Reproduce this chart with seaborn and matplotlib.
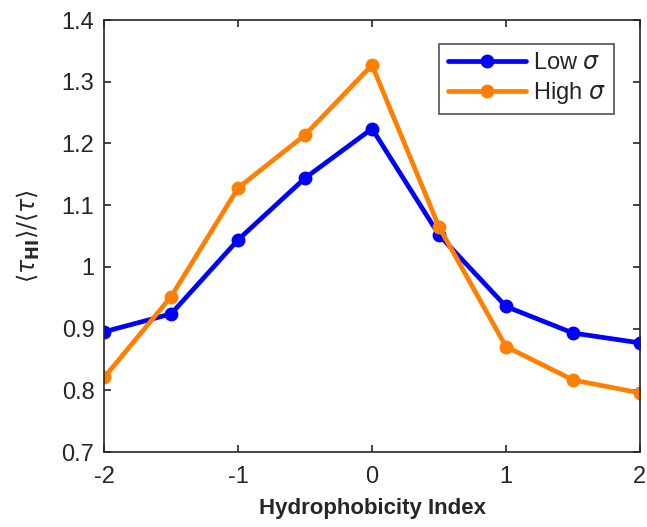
import matplotlib
matplotlib.use("Agg")
import matplotlib.pyplot as plt
import seaborn as sns
import pandas as pd

x_vals = [-2, -1.5, -1, -0.5, 0, 0.5, 1, 1.5, 2]
low_sigma = [0.895, 0.924, 1.044, 1.144, 1.224, 1.052, 0.936, 0.893, 0.877]
high_sigma = [0.821, 0.952, 1.128, 1.214, 1.327, 1.065, 0.871, 0.817, 0.796]
series_names = ["Low $\\sigma$", "High $\\sigma$"]
x_ticks = [-2, -1, 0, 1, 2]
y_ticks = [0.7, 0.8, 0.9, 1.0, 1.1, 1.2, 1.3, 1.4]
y_tick_labels = ["0.7", "0.8", "0.9", "1", "1.1", "1.2", "1.3", "1.4"]

df = pd.DataFrame({
    "x": x_vals * 2,
    "y": low_sigma + high_sigma,
    "series": [series_names[0]] * len(x_vals) + [series_names[1]] * len(x_vals),
})

sns.set_style("white")
plt.rcParams["font.family"] = ["Liberation Sans", "DejaVu Sans"]

fig = plt.figure(figsize=(6.47, 5.27), dpi=100)
ax = fig.add_axes([0.161, 0.142, 0.828, 0.820])

sns.lineplot(data=df, x="x", y="y", hue="series",
             palette={series_names[0]: "#0000FF", series_names[1]: "#FF8000"},
             marker="o", markersize=10, markeredgewidth=0, linewidth=3.4,
             ax=ax)

ax.set_xlim(-2, 2)
ax.set_ylim(0.7, 1.4)
ax.set_xticks(x_ticks)
ax.set_xticklabels([str(t) for t in x_ticks])
ax.set_yticks(y_ticks)
ax.set_yticklabels(y_tick_labels)
ax.tick_params(direction="in", length=5, width=1.2, top=True, right=True,
               bottom=True, left=True, labelsize=17, colors="#262626",
               labelcolor="#262626")
ax.tick_params(axis="x", pad=10)
ax.tick_params(axis="y", pad=7)
for s in ax.spines.values():
    s.set_visible(True)
    s.set_color("#262626")
    s.set_linewidth(1.2)

ax.set_xlabel("Hydrophobicity Index", fontsize=16, fontweight="bold", labelpad=7)
ax.set_ylabel(r"$\langle\tau_{\mathbf{HI}}\rangle/\langle\tau\rangle$", fontsize=17, labelpad=14)

leg = ax.legend(loc="upper right", bbox_to_anchor=(0.951, 0.945), fontsize=17,
                frameon=True, fancybox=False, edgecolor="#262626",
                handlelength=3.3, borderpad=0.35, labelspacing=0.25,
                handletextpad=0.3, borderaxespad=0)
leg.get_frame().set_linewidth(1.2)

fig.savefig("out.png", dpi=100)
